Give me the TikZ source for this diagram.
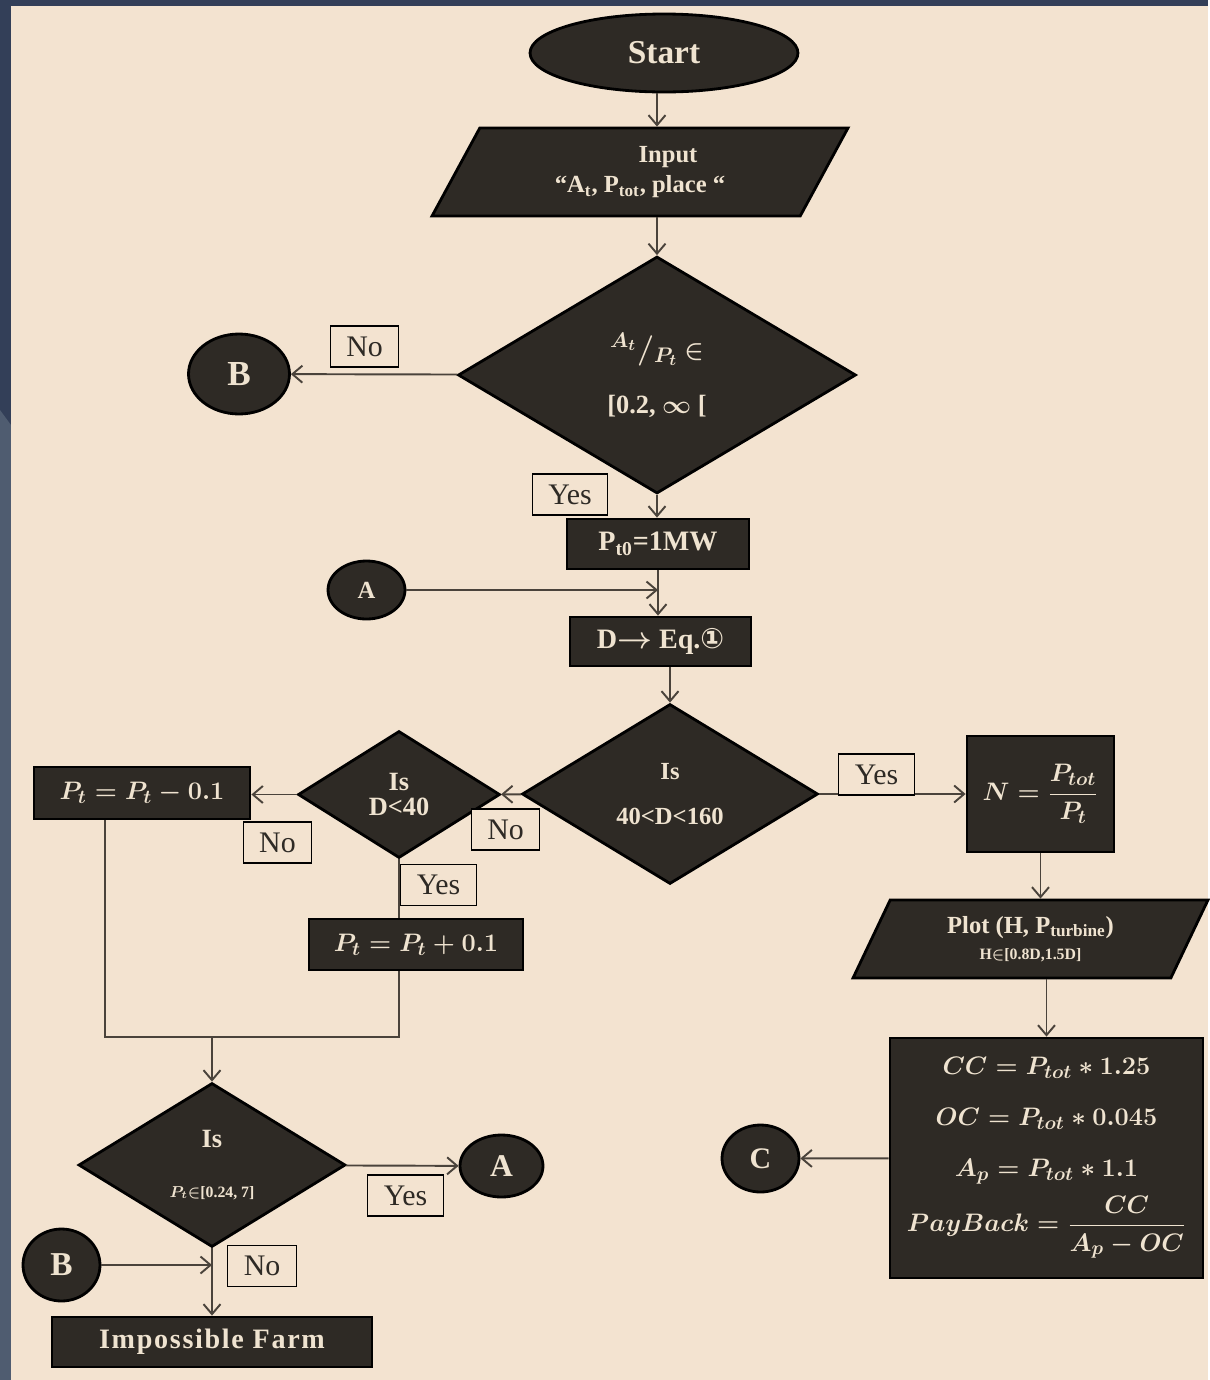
\documentclass[tikz,border=0pt]{standalone}
\usepackage{fontspec}
\setmainfont{Liberation Serif}
\newfontfamily\circfont{DejaVu Sans}
\usepackage{amsmath}
\usetikzlibrary{shapes.geometric,arrows.meta}

\definecolor{paper}{HTML}{F3E3D0}
\definecolor{slate}{HTML}{333F58}
\definecolor{slateLight}{HTML}{4F5C70}
\definecolor{ink}{HTML}{2E2A25}
\definecolor{chalk}{HTML}{EFE3D0}
\definecolor{lineCol}{HTML}{4A433B}

\newcommand{\fsz}[1]{\fontsize{#1}{#1}\selectfont}

\begin{document}
\begin{tikzpicture}[x=0.02cm, y=-0.02cm]

\pgfmathsetlengthmacro{\tagHeight}{0.82cm}
\pgfmathsetlengthmacro{\tagSep}{0.32cm}
\tikzset{
  blk/.style={draw=black, line width=1.6pt, fill=ink, text=chalk, inner sep=0pt, align=center},
  proc/.style={blk, rectangle},
  term/.style={blk, ellipse},
  decide/.style={blk, diamond},
  io/.style={blk, trapezium, trapezium stretches body},
  tag/.style={draw=black, line width=0.8pt, fill=paper, text=ink, inner xsep=\tagSep, inner ysep=0pt, minimum height=\tagHeight, font=\fsz{17}},
  flow/.style={draw=lineCol, line width=1.1pt, -{Straight Barb[length=2mm,width=3.4mm]}},
  link/.style={draw=lineCol, line width=1.1pt},
}

% background
\fill[slate] (0,0) rectangle (1208,1380);
\fill[slateLight] (0,410) -- (11,425) -- (11,1380) -- (0,1380) -- cycle;
\fill[paper] (11,6) rectangle (1208,1380);

% main column
\node[term, minimum width=5.36cm, minimum height=1.56cm, font=\bfseries\fsz{19}, name=start] at (664,53) {Start};
\node[io, trapezium left angle=47, trapezium right angle=133, minimum width=8.32cm, minimum height=1.76cm, font=\bfseries\fontsize{14}{17}\selectfont, name=input] at (640,172)
  {\hspace*{1.12cm}Input\\“A\textsubscript{t}, P\textsubscript{tot}, place “};
\node[decide, minimum width=7.96cm, minimum height=4.74cm, font=\boldmath\bfseries\fontsize{15}{17}\selectfont, name=ratio] at (657,375)
  {{\fsz{18}${}^{A_t}/{}_{P_t}$} $\in$\\[0.5cm][0.2, $\infty$ [};
\node[proc, minimum width=3.64cm, minimum height=1cm, font=\bfseries\fsz{16}, name=pzero] at (658,544) {P\textsubscript{t0}=1MW};
\node[proc, minimum width=3.62cm, minimum height=0.98cm, font=\boldmath\bfseries\fsz{16}, name=dbox] at (660.5,641.5) {D$\rightarrow$ Eq.{\circfont ①}};
\node[decide, minimum width=5.92cm, minimum height=3.6cm, font=\bfseries\fontsize{14}{16}\selectfont, name=isRange] at (670,794) {Is\\[0.35cm]40<D<160};

% left branch
\node[decide, minimum width=4.04cm, minimum height=2.54cm, font=\bfseries\fontsize{15}{14}\selectfont, name=isD] at (399,794.5) {Is\\D<40};
\node[proc, minimum width=4.32cm, minimum height=1.04cm, font=\boldmath\fsz{15}, name=ptminus] at (142,793) {$P_t = P_t - 0.1$};
\node[proc, minimum width=4.28cm, minimum height=1.02cm, font=\boldmath\fsz{15}, name=ptplus] at (416,944.5) {$P_t = P_t + 0.1$};
\node[decide, minimum width=5.34cm, minimum height=3.28cm, font=\boldmath\bfseries\fontsize{15}{14}\selectfont, name=isP] at (212,1165)
  {Is\\[0.5cm]{\fsz{9}$P_t$$\in$[0.24, 7]}};
\node[proc, minimum width=6.4cm, minimum height=1cm, font=\bfseries\fsz{16}, name=impossible] at (212,1342)
  {\addfontfeature{LetterSpace=6}Impossible Farm};

% right branch
\node[proc, minimum width=2.94cm, minimum height=2.32cm, font=\boldmath\fsz{15}, name=nturb] at (1040.5,794)
  {\raisebox{0.35cm}{$N = \dfrac{P_{tot}}{P_t}$}};
\node[io, trapezium left angle=51, trapezium right angle=129, minimum width=7.1cm, minimum height=1.56cm, font=\boldmath\bfseries\fontsize{14}{15}\selectfont, name=plot] at (1030.5,939)
  {Plot (H, P\textsubscript{turbine})\\{\fsz{9}H$\in$[0.8D,1.5D]}};
\node[proc, minimum width=6.26cm, minimum height=4.8cm, font=\boldmath\fontsize{15}{17}\selectfont, name=costs] at (1046.5,1158)
  {$CC = P_{tot} \ast 1.25$\\[0.42cm]
   $OC = P_{tot} \ast 0.045$\\[0.42cm]
   $A_p = P_{tot} \ast 1.1$\\[0.2cm]
   $PayBack = \dfrac{CC}{A_p - OC}$};

% connectors
\node[term, minimum width=2.02cm, minimum height=1.6cm, font=\bfseries\fsz{20}, name=B1] at (239,374) {B};
\node[term, minimum width=1.54cm, minimum height=1.16cm, font=\bfseries\fsz{14}, name=A1] at (366.5,590) {A};
\node[term, minimum width=1.66cm, minimum height=1.24cm, font=\bfseries\fsz{18}, name=A2] at (501.5,1166) {A};
\node[term, minimum width=1.54cm, minimum height=1.34cm, font=\bfseries\fsz{17}, name=C] at (760.5,1158.5) {C};
\node[term, minimum width=1.54cm, minimum height=1.44cm, font=\bfseries\fsz{19}, name=B2] at (61.5,1265) {B};

% arrows
\draw[flow] (start.south -| ratio.north) -- (input.north -| ratio.north);
\draw[flow] (input.south -| ratio.north) -- (ratio.north);
\draw[flow] (ratio) -- (B1);
\draw[flow] (ratio.south) -- (ratio.south |- pzero.north);
\draw[flow] (A1) -- (A1 -| pzero.south);
\draw[flow] (pzero.south) -- (pzero.south |- dbox.north);
\draw[flow] (dbox.south -| isRange.north) -- (isRange.north);
\draw[flow] (isRange) -- (nturb);
\draw[flow] (isRange) -- (isD);
\draw[flow] (isD.west) -- (isD.west -| ptminus.east);
\draw[link] (isD.south) -- (isD.south |- ptplus.north);
\draw[flow] (nturb.south) -- (nturb.south |- plot.north);
\draw[flow] (plot.south -| costs.north) -- (costs.north);
\draw[flow] (costs) -- (C);

% merge of both corrections
\coordinate (merge) at (212,1037);
\coordinate (loopLeft) at (105,1037);
\draw[link] (ptplus.south -| isD.south) |- (loopLeft) -- (loopLeft |- ptminus.south);
\draw[flow] (merge) -- (isP.north);
\draw[flow] (isP) -- (A2);
\draw[flow] (isP.south) -- (impossible.north);
\draw[flow] (B2) -- (B2 -| isP.south);

% yes / no tags
\node[tag, name=noRatio] at (364.5,346.5) {No};
\node[tag, name=yesRatio] at (570,494.5) {Yes};
\node[tag, name=yesRange] at (876.5,774.5) {Yes};
\node[tag, name=noRange] at (505.5,829.5) {No};
\node[tag, name=noD] at (277.5,842.5) {No};
\node[tag, name=yesD] at (438.5,885) {Yes};
\node[tag, name=yesP] at (405.5,1195.5) {Yes};
\node[tag, name=noP] at (262,1266) {No};

\end{tikzpicture}
\end{document}
